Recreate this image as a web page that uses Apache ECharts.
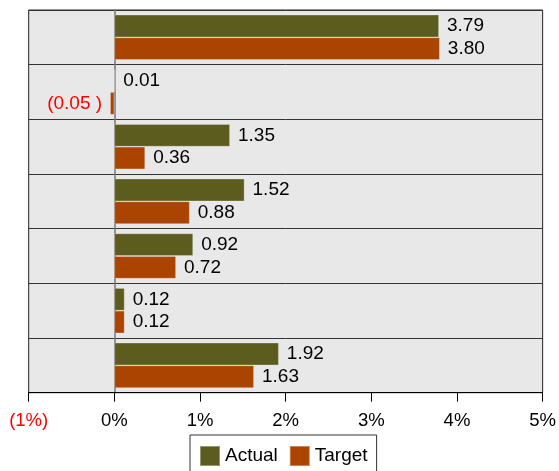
<!DOCTYPE html>
<html>
<head>
<meta charset="utf-8">
<script src="https://cdn.jsdelivr.net/npm/echarts@6/dist/echarts.min.js"></script>
<style>html,body{margin:0;padding:0;background:#fff}#c{width:559px;height:471px}</style>
</head>
<body>
<div id="c"></div>
<script>
var categories = ['1', '2', '3', '4', '5', '6', '7'];
var actual = [3.79, 0.01, 1.35, 1.52, 0.92, 0.12, 1.92];
var target = [3.80, -0.05, 0.36, 0.88, 0.72, 0.12, 1.63];
var xTicks = [-1, 0, 1, 2, 3, 4, 5];

var font = '"Liberation Sans", Arial, sans-serif';
function fmtVal(v) {
  return v < 0 ? '(' + Math.abs(v).toFixed(2) + ' )' : v.toFixed(2);
}
function mkData(arr) {
  return arr.map(function (v) {
    return {
      value: v,
      label: v < 0 ? { position: 'left', color: '#ff0000' } : { position: 'right', color: '#000' }
    };
  });
}
var chart = echarts.init(document.getElementById('c'));
chart.setOption({
  animation: false,
  backgroundColor: '#fff',
  grid: {
    left: 28.7, right: 12.3, top: 10, bottom: 78.3,
    show: true, backgroundColor: '#e8e8e8', borderColor: '#222', borderWidth: 1
  },
  legend: {
    data: ['Actual', 'Target'],
    top: 435, left: 190,
    padding: [10, 9, 10, 9],
    itemWidth: 20, itemHeight: 20, itemGap: 11,
    icon: 'rect',
    backgroundColor: '#fff', borderColor: '#333', borderWidth: 1,
    textStyle: { fontFamily: font, fontSize: 19, color: '#000', padding: [0, 0, 0, 0] }
  },
  xAxis: {
    type: 'value', min: xTicks[0], max: xTicks[xTicks.length - 1], interval: 1,
    axisLine: { show: true, lineStyle: { color: '#000', width: 1 } },
    axisTick: { show: true, length: 9, lineStyle: { color: '#000' } },
    splitLine: { show: false },
    axisLabel: {
      margin: 19, fontFamily: font, fontSize: 18.5,
      formatter: function (v) { return v < 0 ? '(' + Math.abs(v) + '%)' : v + '%'; },
      color: function (v) { return v < 0 ? '#ff0000' : '#000'; }
    }
  },
  yAxis: {
    type: 'category', data: categories, inverse: true,
    axisLine: { show: true, onZero: true, lineStyle: { color: '#777', width: 1.5 } },
    axisTick: { show: false },
    axisLabel: { show: false },
    splitLine: { show: true, lineStyle: { color: '#333', width: 1 } }
  },
  series: [
    {
      name: 'Actual', type: 'bar', data: mkData(actual),
      barCategoryGap: '17%', barGap: '0%',
      itemStyle: { color: '#5c5c1f', borderColor: 'rgba(255,255,255,0.35)', borderWidth: 0.8 },
      label: { show: true, distance: 8, fontFamily: font, fontSize: 19, formatter: function (p) { return fmtVal(p.value); } }
    },
    {
      name: 'Target', type: 'bar', data: mkData(target),
      barCategoryGap: '17%', barGap: '0%',
      itemStyle: { color: '#aa4400', borderColor: 'rgba(255,255,255,0.35)', borderWidth: 0.8 },
      label: { show: true, distance: 8, fontFamily: font, fontSize: 19, formatter: function (p) { return fmtVal(p.value); } }
    }
  ]
});
</script>
</body>
</html>
